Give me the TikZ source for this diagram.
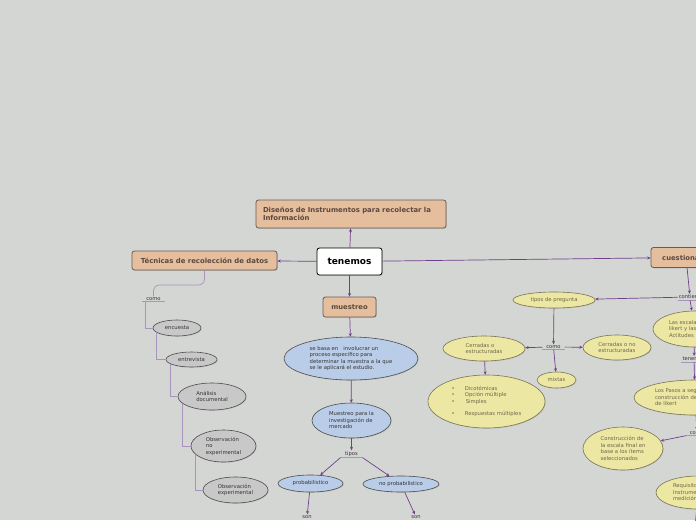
\documentclass[tikz,border=0pt]{standalone}
\usepackage{fontspec}
\setmainfont{DejaVu Sans}
\usetikzlibrary{arrows.meta, shapes.geometric, shadows}

\definecolor{canvas}{RGB}{212,214,211}
\definecolor{tanfill}{RGB}{229,190,158}
\definecolor{tanedge}{RGB}{105,92,82}
\definecolor{tantext}{RGB}{92,72,62}
\definecolor{linkpurple}{RGB}{112,62,140}
\definecolor{elbowlav}{RGB}{168,148,188}
\definecolor{skyfill}{RGB}{186,205,232}
\definecolor{greyfill}{RGB}{200,200,200}
\definecolor{lemonfill}{RGB}{236,231,163}
\definecolor{lemonedge}{RGB}{122,116,84}
\definecolor{lemontext}{RGB}{112,102,74}

\begin{document}
\begin{tikzpicture}[x=1pt, y=-1pt, >={Stealth[length=3.4pt,width=3pt]},
    link/.style={->, color=linkpurple, line width=0.7pt},
    elbow/.style={draw=elbowlav, line width=0.7pt},
    underbar/.style={draw=elbowlav, line width=0.8pt},
    topicbox/.style={rectangle, rounded corners=2.5pt, draw=tanedge, line width=0.8pt,
      fill=tanfill, text=tantext, inner sep=0pt,
      font=\bfseries\fontsize{6.9}{8.2}\selectfont,
      drop shadow={shadow xshift=0.8pt, shadow yshift=-0.8pt, opacity=0.3}},
    hubbox/.style={topicbox, fill=white, draw=black, text=black,
      font=\bfseries\fontsize{9}{10}\selectfont},
    bubble/.style={ellipse, draw=black!70, line width=0.6pt, inner sep=0pt,
      align=left, text=black!80, font=\fontsize{5.3}{6.5}\selectfont,
      drop shadow={shadow xshift=0.7pt, shadow yshift=-0.7pt, opacity=0.25}},
    skybub/.style={bubble, fill=skyfill},
    greybub/.style={bubble, fill=greyfill},
    lemonbub/.style={bubble, fill=lemonfill, draw=lemonedge, text=lemontext},
    linktext/.style={inner sep=1pt, minimum width=22pt, text=black!80,
      font=\fontsize{5.2}{6}\selectfont}]

  \useasboundingbox (0,0) rectangle (696,520);
  \clip (0,0) rectangle (696,520);
  \fill[canvas] (0,0) rectangle (696,520);

  % main boxes
  \node[hubbox, minimum width=65pt, minimum height=27pt] (tenemos) at (349.5,261.5) {tenemos};
  \node[topicbox, minimum width=190pt, minimum height=28pt, text width=176pt, align=left]
    (disenos) at (351,214) {Diseños de Instrumentos para recolectar la\\Información};
  \node[topicbox, minimum width=145pt, minimum height=19pt] (tecnicas) at (204.5,260.5)
    {Técnicas de recolección de datos};
  \node[topicbox, minimum width=53pt, minimum height=20pt,
    font=\bfseries\fontsize{6.8}{8}\selectfont] (muestreo) at (349.5,307) {muestreo};
  \node[topicbox, minimum width=70pt, minimum height=20pt,
    font=\bfseries\fontsize{6.8}{8}\selectfont] (cuestionario) at (686,257.5) {cuestionario};

  % left branch
  \node[linktext] (comoL) at (153.5,299) {como};
  \node[greybub, minimum width=48pt, minimum height=16pt] (encuesta) at (177,328) {encuesta};
  \node[greybub, minimum width=51pt, minimum height=15pt] (entrevista) at (191.5,359.5) {entrevista};
  \node[greybub, minimum width=68pt, minimum height=27pt] (analisis) at (212,396.5)
    {Análisis\\documental\hspace{8pt}};
  \node[greybub, minimum width=65pt, minimum height=32pt] (obsno) at (223.5,446)
    {Observación\\no\\experimental};
  \node[greybub, minimum width=65pt, minimum height=26pt] (obsexp) at (235.5,490)
    {Observación\\experimental};

  % middle branch
  \node[skybub, minimum width=134pt, minimum height=43pt] (sebasa) at (351,358.5)
    {se basa en \ \ involucrar un\\proceso especifico para\\determinar la muestra a la que\\se le aplicará el estudio.};
  \node[skybub, minimum width=79pt, minimum height=35pt] (mercado) at (351.5,420.5)
    {Muestreo para la\\investigación de\\mercado\hspace{16pt}};
  \node[linktext] (tipos) at (351.5,454) {tipos};
  \node[skybub, minimum width=65pt, minimum height=17pt] (prob) at (310.5,483.5) {probabilistico};
  \node[skybub, minimum width=76pt, minimum height=16pt] (noprob) at (401,484) {no probabilistico};
  \node[linktext] (sonA) at (307,517) {son};
  \node[linktext] (sonB) at (416,517) {son};

  % right branch
  \node[linktext] (contiene) at (690,297) {contiene};
  \node[lemonbub, minimum width=82pt, minimum height=16pt] (tipospreg) at (554,300) {tipos de pregunta};
  \node[linktext] (comoM) at (553.5,347) {como};
  \node[lemonbub, minimum width=82pt, minimum height=25pt] (cerradas) at (484,348.5)
    {Cerradas o\\estructuradas};
  \node[lemonbub, minimum width=68pt, minimum height=25pt] (cerradasno) at (617,347.5)
    {Cerradas o no\\estructuradas};
  \node[lemonbub, minimum width=39pt, minimum height=16pt] (mixtas) at (556.5,380) {mixtas};
  \node[lemonbub, minimum width=117pt, minimum height=53pt] (tiposlist) at (486.5,401.5)
    {\textbullet\hspace{10pt}Dicotómicas\\
     \textbullet\hspace{10pt}Opción múltiple\\
     \textbullet\hspace{11pt}Simples\\[6pt]
     \textbullet\hspace{10pt}Respuestas múltiples};
  \node[lemonbub, minimum width=84pt, minimum height=36pt, text width=52pt] (escalas) at (695,329)
    {Las escalas de\\likert y las\\Actitudes};
  \node[linktext] (tenemosR) at (694,359) {tenemos};
  \node[lemonbub, minimum width=122pt, minimum height=35pt, text width=80pt] (pasos) at (695,397.5)
    {Los Pasos a seguir en la\\construcción de la escala\\de likert};
  \node[linktext] (comoR) at (697,433) {como};
  \node[lemonbub, minimum width=80pt, minimum height=43pt] (construccion) at (623,448.5)
    {Construcción de\\la escala final en\\base a los ítems\\seleccionados};
  \node[lemonbub, minimum width=84pt, minimum height=33pt, text width=50pt] (requisitos) at (698,492.5)
    {Requisitos de un\\Instrumento de\\medición};
  \coordinate (reqout) at (695,528);

  % underlines of the linking words
  \foreach \w in {comoL, tipos, comoM, contiene, tenemosR, comoR}
    \draw[underbar] (\w.south west) -- (\w.south east);

  % connectors
  \path[link]
    (tenemos) edge (disenos)
    (tenemos) edge (tecnicas)
    (tenemos) edge (cuestionario)
    (tenemos) edge (muestreo)
    (muestreo) edge (sebasa)
    (sebasa) edge (mercado)
    (mercado) edge (tipos)
    (tipos.south west) edge (prob)
    (tipos.south east) edge (noprob)
    (prob) edge (sonA)
    (noprob) edge (sonB)
    (cuestionario) edge (contiene)
    (contiene) edge (tipospreg)
    (tipospreg) edge (comoM)
    (comoM) edge (cerradas)
    (comoM) edge (cerradasno)
    (comoM) edge (mixtas)
    (cerradas) edge (tiposlist)
    (contiene.south) edge (escalas)
    (escalas) edge (tenemosR)
    (tenemosR) edge (pasos)
    (pasos) edge (comoR)
    (comoR.south west) edge (construccion)
    (requisitos) edge (reqout);

  \draw[elbow, rounded corners=6pt] (tecnicas.south) |- (comoL.north |- 0,285) -- (comoL.north);
  \draw[elbow] ([xshift=-8pt]comoL.south) |- (encuesta.west);
  \draw[elbow] (encuesta.192) |- (entrevista.west);
  \draw[elbow] (entrevista.192) |- (analisis.west);
  \draw[elbow] (analisis.194) |- (obsno.west);
  \draw[elbow] (obsno.197) |- (obsexp.west);
\end{tikzpicture}
\end{document}
